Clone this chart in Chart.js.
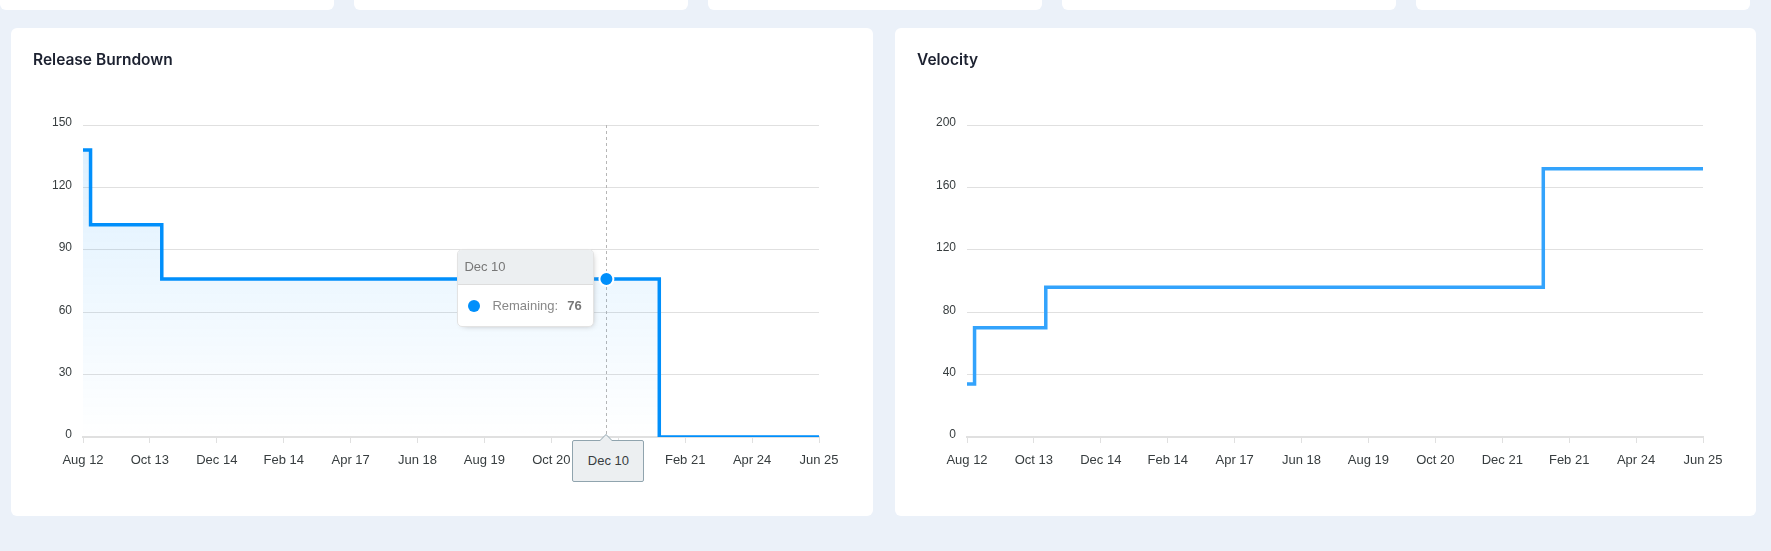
<!DOCTYPE html>
<html lang="en">
<head>
<meta charset="utf-8">
<title>Release Burndown / Velocity</title>
<script src="https://cdn.jsdelivr.net/npm/chart.js@4.4.1/dist/chart.umd.min.js"></script>
<style>
    html, body {
        margin: 0;
        padding: 0;
    }
    body {
        width: 1771px;
        height: 551px;
        overflow: hidden;
        position: relative;
        background: #ebf1f9;
        font-family: Helvetica, Arial, sans-serif;
    }
    .stat-card {
        position: absolute;
        top: -30px;
        width: 334px;
        height: 40px;
        background: #fff;
        border-radius: 6px;
    }
    .card {
        position: absolute;
        top: 28px;
        height: 488px;
        background: #fff;
        border-radius: 6px;
    }
    .card h3 {
        position: absolute;
        left: 22px;
        top: 22px;
        margin: 0;
        font: 600 15.5px/20px Inter, "Noto Sans", sans-serif;
        color: #1c2130;
        z-index: 2;
    }
    .chart-box {
        position: absolute;
        left: 0;
        top: 0;
        width: 100%;
        height: 100%;
    }
    .apx-tooltip {
        position: absolute;
        display: none;
        width: 137px;
        height: 78px;
        box-sizing: border-box;
        background: #fff;
        border: 1px solid #e3e3e3;
        border-radius: 5px;
        box-shadow: 2px 2px 6px -4px #999;
        overflow: hidden;
        font-size: 13px;
    }
    .apx-tooltip .tt-title {
        height: 35px;
        box-sizing: border-box;
        line-height: 34px;
        padding-left: 6px;
        background: #eceff1;
        border-bottom: 1px solid #ddd;
        color: #777;
    }
    .apx-tooltip .tt-body {
        display: flex;
        align-items: center;
        height: 42px;
        padding-left: 10px;
        color: #888;
    }
    .apx-tooltip .tt-marker {
        width: 12px;
        height: 12px;
        border-radius: 50%;
        background: #008ffb;
        margin-right: 12px;
    }
    .apx-tooltip .tt-value {
        margin-left: 9px;
        font-weight: bold;
        color: #777;
    }
    .apx-xtip {
        position: absolute;
        display: none;
        width: 72px;
        height: 42px;
        box-sizing: border-box;
        background: #eceff1;
        border: 1px solid #90a4ae;
        border-radius: 2px;
        font-size: 13px;
        line-height: 40px;
        text-align: center;
        color: #373d3f;
    }
    .apx-xtip::before, .apx-xtip::after {
        content: '';
        position: absolute;
        left: 50%;
        bottom: 100%;
        border: solid transparent;
    }
    .apx-xtip::before {
        margin-left: -9px;
        border-width: 7px;
        border-bottom-color: #90a4ae;
    }
    .apx-xtip::after {
        margin-left: -8px;
        border-width: 6px;
        border-bottom-color: #eceff1;
    }
</style>
</head>
<body>
<div class="stat-card" style="left:0"></div>
<div class="stat-card" style="left:354px"></div>
<div class="stat-card" style="left:708px"></div>
<div class="stat-card" style="left:1062px"></div>
<div class="stat-card" style="left:1416px"></div>

<div class="card" style="left:11px; width:862px">
    <h3>Release Burndown</h3>
    <div class="chart-box">
        <canvas id="burndownChart"></canvas>
        <div class="apx-tooltip" id="burndownTip">
            <div class="tt-title"></div>
            <div class="tt-body">
                <span class="tt-marker"></span><span class="tt-label"></span><span class="tt-value"></span>
            </div>
        </div>
        <div class="apx-xtip" id="burndownXTip"></div>
    </div>
</div>

<div class="card" style="left:895px; width:861px">
    <h3>Velocity</h3>
    <div class="chart-box">
        <canvas id="velocityChart"></canvas>
    </div>
</div>

<script>
    // x axis: days since the first date, one label every 62 days
    const tickLabels = ['Aug 12', 'Oct 13', 'Dec 14', 'Feb 14', 'Apr 17', 'Jun 18',
        'Aug 19', 'Oct 20', 'Dec 21', 'Feb 21', 'Apr 24', 'Jun 25'];
    const tickStep = 62;
    const lastDay = 682;

    // Release burndown (points where the remaining count changes, plus the hovered day)
    const burndownDays = [0, 7, 73, 485, 534, 682];
    const burndownDates = ['Aug 12', 'Aug 19', 'Oct 24', 'Dec 10', 'Jan 28', 'Jun 25'];
    const burndownRemaining = [138, 102, 76, 76, 0, 0];
    const hoveredIndex = 3;

    // Velocity
    const velocityDays = [0, 7, 73, 534, 682];
    const velocityPoints = [34, 70, 96, 172, 172];

    const TICK_FONT = 'Helvetica, Arial, sans-serif';
    const TICK_COLOR = '#373d3f';
    const GRID_COLOR = '#e0e0e0';

    function areaGradient(context) {
        const { ctx, chartArea } = context.chart;
        if (!chartArea) return 'rgba(0,143,251,0.08)';
        const g = ctx.createLinearGradient(0, chartArea.top, 0, chartArea.bottom);
        g.addColorStop(0, 'rgba(0,143,251,0.14)');
        g.addColorStop(1, 'rgba(0,143,251,0.0)');
        return g;
    }

    // dashed vertical line at the active point, drawn behind the series
    const crosshair = {
        id: 'crosshair',
        beforeDatasetsDraw(chart) {
            const active = chart.tooltip && chart.tooltip.getActiveElements();
            if (!active || !active.length) return;
            const x = Math.round(active[0].element.x) + 0.5;
            const { ctx, chartArea } = chart;
            ctx.save();
            ctx.strokeStyle = '#b6b6b6';
            ctx.lineWidth = 1;
            ctx.setLineDash([3, 3]);
            ctx.beginPath();
            ctx.moveTo(x, chartArea.top);
            ctx.lineTo(x, chartArea.bottom);
            ctx.stroke();
            ctx.restore();
        }
    };

    function burndownTooltip({ chart, tooltip }) {
        const box = document.getElementById('burndownTip');
        const xbox = document.getElementById('burndownXTip');
        if (tooltip.opacity === 0 || !tooltip.dataPoints || !tooltip.dataPoints.length) {
            box.style.display = 'none';
            xbox.style.display = 'none';
            return;
        }
        const point = tooltip.dataPoints[0];
        box.querySelector('.tt-title').textContent = burndownDates[point.dataIndex];
        box.querySelector('.tt-label').textContent = point.dataset.label + ':';
        box.querySelector('.tt-value').textContent = point.parsed.y;
        box.style.left = (tooltip.caretX - 149) + 'px';
        box.style.top = (tooltip.caretY - 30) + 'px';
        box.style.display = 'block';

        xbox.textContent = burndownDates[point.dataIndex];
        xbox.style.left = (tooltip.caretX - 34) + 'px';
        xbox.style.top = (chart.chartArea.bottom + 3) + 'px';
        xbox.style.display = 'block';
    }

    function buildChart(canvas, days, values, cfg) {
        return new Chart(canvas, {
            type: 'line',
            data: {
                datasets: [{
                    label: cfg.label,
                    data: days.map((d, i) => ({ x: d, y: values[i] })),
                    stepped: true,
                    borderColor: cfg.color,
                    borderWidth: 3.5,
                    borderJoinStyle: 'miter',
                    pointRadius: 0,
                    pointHoverRadius: 7,
                    pointHoverBorderWidth: 2,
                    pointHoverBorderColor: '#fff',
                    pointHoverBackgroundColor: cfg.color,
                    fill: cfg.fill ? 'origin' : false,
                    backgroundColor: cfg.fill ? areaGradient : 'transparent',
                }],
            },
            options: {
                responsive: true,
                maintainAspectRatio: false,
                animation: false,
                events: [],
                layout: {
                    padding: { top: 97, right: cfg.padRight, bottom: 39, left: 0 },
                },
                plugins: {
                    legend: { display: false },
                    tooltip: { enabled: false, external: cfg.external },
                },
                scales: {
                    x: {
                        type: 'linear',
                        min: 0,
                        max: lastDay,
                        afterFit: (scale) => { scale.height = 40; },
                        ticks: {
                            stepSize: tickStep,
                            autoSkip: false,
                            maxRotation: 0,
                            padding: 10,
                            color: TICK_COLOR,
                            font: { family: TICK_FONT, size: 13 },
                            callback: (value) => tickLabels[Math.round(value / tickStep)],
                        },
                        grid: {
                            drawOnChartArea: false,
                            drawTicks: true,
                            tickLength: 6,
                            color: GRID_COLOR,
                        },
                        border: { display: true, color: GRID_COLOR, width: 2 },
                    },
                    y: {
                        min: 0,
                        max: cfg.yMax,
                        afterFit: (scale) => { scale.width = 72; },
                        ticks: {
                            stepSize: cfg.yStep,
                            padding: 11,
                            labelOffset: -2,
                            color: TICK_COLOR,
                            font: { family: TICK_FONT, size: 12 },
                        },
                        grid: { color: GRID_COLOR, drawTicks: false },
                        border: { display: false },
                    },
                },
            },
            plugins: cfg.plugins || [],
        });
    }

    const burndownChart = buildChart(document.getElementById('burndownChart'), burndownDays, burndownRemaining, {
        label: 'Remaining',
        color: '#008ffb',
        fill: true,
        yMax: 150,
        yStep: 30,
        padRight: 54,
        external: burndownTooltip,
        plugins: [crosshair],
    });

    buildChart(document.getElementById('velocityChart'), velocityDays, velocityPoints, {
        label: 'Velocity',
        color: '#33a3fc',
        fill: false,
        yMax: 200,
        yStep: 40,
        padRight: 53,
    });

    // show the hovered state on Dec 10
    const hovered = [{ datasetIndex: 0, index: hoveredIndex }];
    const hoveredPoint = burndownChart.getDatasetMeta(0).data[hoveredIndex];
    burndownChart.tooltip.setActiveElements(hovered, { x: hoveredPoint.x, y: hoveredPoint.y });
    burndownChart.setActiveElements(hovered);
    burndownChart.update();
</script>
</body>
</html>
